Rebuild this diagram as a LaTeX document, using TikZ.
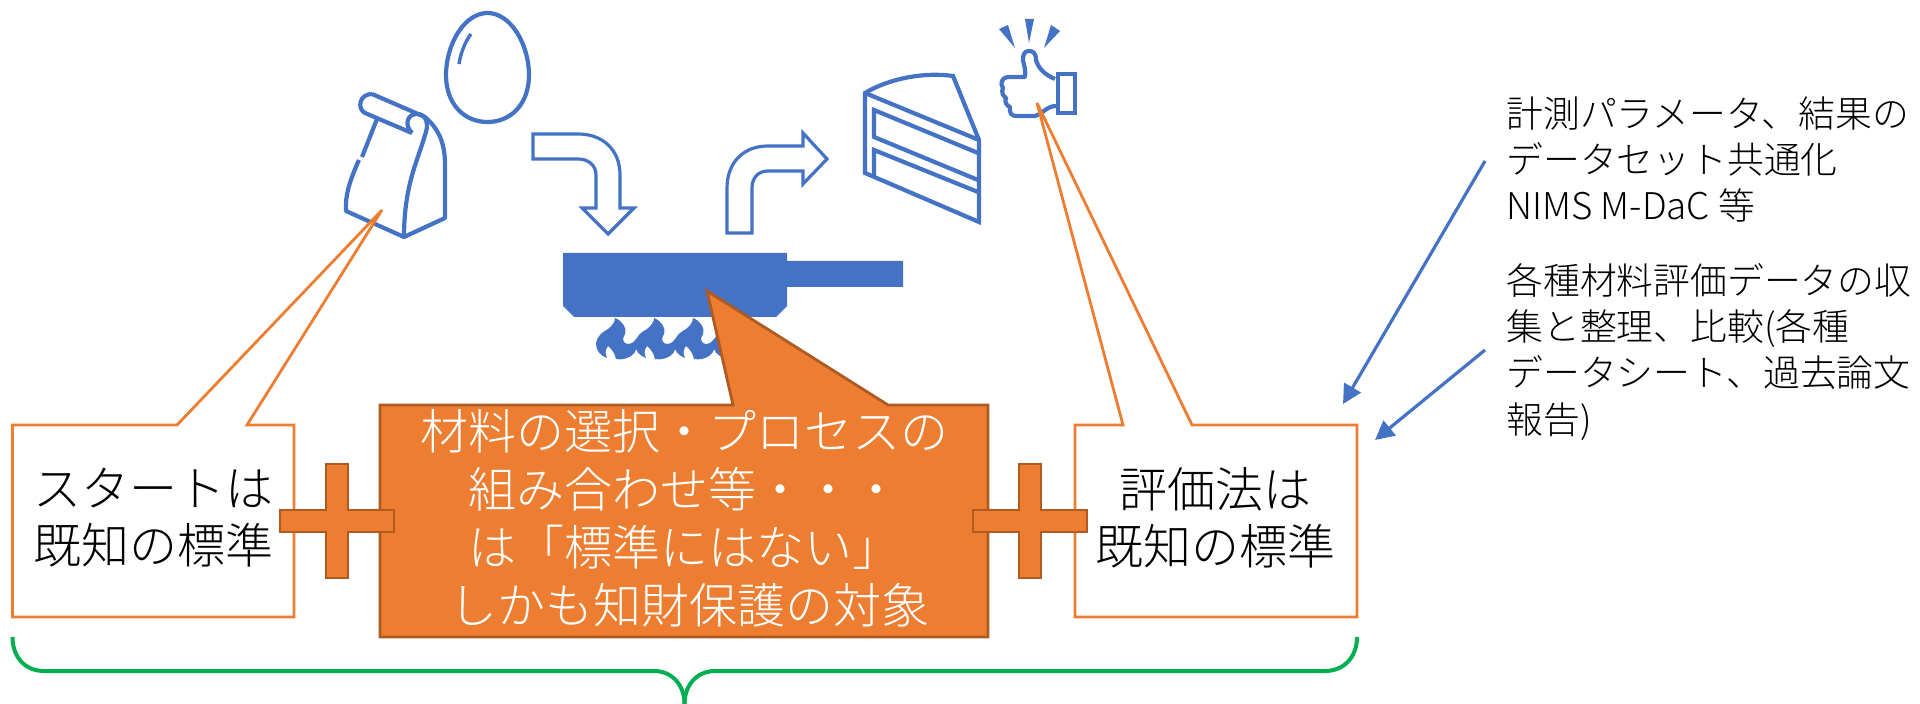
\documentclass[tikz,border=0pt]{standalone}
\usepackage{fontspec}
\IfFontExistsTF{Noto Sans CJK JP Light}{\setmainfont{Noto Sans CJK JP Light}}{\setmainfont{Noto Sans CJK JP}}
\usetikzlibrary{arrows.meta}
\definecolor{bl}{HTML}{4472C4}
\definecolor{og}{HTML}{ED7D31}
\definecolor{dog}{HTML}{AE5A21}
\definecolor{gr}{HTML}{00B050}
\tikzset{
 icon/.style={draw=bl,line width=2.1pt,line join=miter,fill=white},
 iconthin/.style={draw=bl,line width=1.6pt,line join=miter,fill=white},
 calloutw/.style={draw=og,line width=1.4pt,fill=white,line join=miter,miter limit=3},
 callouto/.style={draw=dog,line width=1.4pt,fill=og,line join=miter},
 bigtext/.style={inner sep=0pt,align=center,font=\fontsize{24}{28.5}\selectfont,text=black},
 midtext/.style={inner sep=0pt,align=center,font=\fontsize{24}{29}\selectfont,text=white},
 sidetext/.style={inner sep=0pt,align=left,anchor=north west,font=\fontsize{18.4}{23.1}\selectfont,text=black},
 link/.style={draw=bl,line width=1.6pt,-{Triangle[length=9.5pt,width=9.5pt]}},
 brace/.style={draw=gr,line width=2pt,line cap=butt},
 flame/.pic={\fill[bl] (-1,-15) .. controls (0,-24) and (6,-27) .. (11,-30) .. controls (15,-33) and (18,-37) .. (18,-41)
   .. controls (25,-38) and (30,-32) .. (28,-25) .. controls (26,-21) and (25,-19) .. (28,-16) .. controls (31,-14) and (36,-15) .. (39,-20)
   .. controls (41,-12) and (39,-6) .. (34,-3) .. controls (29,0) and (24,1) .. (19,0)
   .. controls (18,-5) and (15,-10) .. (11,-13) .. controls (8,-9) and (8,-5) .. (10,-1)
   .. controls (4,-3) and (-1,-8) .. (-1,-15) -- cycle;}
}
\begin{document}
\begin{tikzpicture}[x=0.5pt,y=-0.5pt]
\useasboundingbox (0,0) rectangle (1920,704);
% egg
\draw[icon,fill=none] (487.5,13) .. controls (511,13) and (529,45) .. (529,75)
  .. controls (529,104) and (511,122) .. (487.5,122)
  .. controls (464,122) and (446,104) .. (446,75)
  .. controls (446,45) and (464,13) .. cycle;
\draw[icon,fill=none,line width=1.7pt] (471,34) .. controls (465,42) and (461,52) .. (459,64);
% bag
\begin{scope}[icon,fill=none,line join=round]
\draw (372,94) -- (425,117) .. controls (440,130) and (445,145) .. (445,165) -- (445,218) -- (404,237) -- (346,211)
  .. controls (345,195) and (350,180) .. (359,160);
\draw (377,119) -- (362,157);
\draw (412,133) -- (365,113) .. controls (357,109) and (359,94) .. (372,94);
\draw (412,133) .. controls (404,125) and (407,114) .. (417,114) .. controls (427,114) and (429,125) .. (425,135)
  .. controls (418,160) and (404,185) .. (404,237);
\end{scope}
% bent arrows
\draw[iconthin] (533,134) -- (578,134) .. controls (603,134) and (620,150) .. (620,175) -- (620,208) -- (634,208) -- (608,234) -- (582,208) -- (596,208) -- (596,175)
  .. controls (596,165) and (588,159) .. (578,159) -- (533,159) -- cycle;
\draw[iconthin] (727,233) -- (727,188) .. controls (727,163) and (743,146) .. (768,146) -- (803,146) -- (803,133) -- (827,159) -- (803,184) -- (803,171) -- (768,171)
  .. controls (758,171) and (752,178) .. (752,188) -- (752,233) -- cycle;
% cake
\draw[icon,fill=none] (865,93) .. controls (890,78) and (925,72) .. (953,76) -- (979,140) -- (979,222) -- (865,173) -- cycle;
\draw[icon,fill=none] (865,93) -- (979,140);
\draw[icon,fill=none] (978,153) -- (874,110) -- (874,137) -- (978,180);
\draw[icon,fill=none] (978,192) -- (874,150) -- (874,177);
% thumb
\draw[icon,fill=none,line join=round] (1055,79) .. controls (1045,75) and (1038,68) .. (1036,60)
  .. controls (1036,52) and (1032,51) .. (1029,51) .. controls (1024,51) and (1023,55) .. (1023,60) .. controls (1024,66) and (1026,70) .. (1025,77)
  -- (1008,77) .. controls (1001,78) and (1000,84) .. (1003,88) .. controls (1001,92) and (1003,96) .. (1006,98) .. controls (1004,102) and (1007,106) .. (1010,107)
  .. controls (1009,112) and (1011,116) .. (1016,116) -- (1035,116) .. controls (1042,115) and (1046,106) .. (1056,106);
\draw[icon,fill=none] (1058,74) rectangle (1075,113);
\fill[bl] (999,29) -- (1008,25) -- (1015,48) -- cycle;
\fill[bl] (1025,19) -- (1034,19) -- (1029,43) -- cycle;
\fill[bl] (1051,25) -- (1060,31) -- (1044,48) -- cycle;
% pan
\fill[bl] (563,253) -- (787,253) -- (787,261) -- (903,261) -- (903,287) -- (787,287) -- (787,306) -- (776,317) -- (574,317) -- (563,306) -- cycle;
% flames
\foreach \fx in {597,636,675,714}
  \pic at (\fx,359) {flame};
% callouts
\draw[calloutw] (12.5,425) -- (177,425) -- (382,210) -- (247,425) -- (294,425) -- (294,617) -- (12.5,617) -- cycle;
\draw[calloutw] (1075,425) -- (1123,425) -- (1037,103) -- (1192,425) -- (1357,425) -- (1357,617) -- (1075,617) -- cycle;
\draw[callouto] (380,405) -- (733,405) -- (707,291) -- (888,405) -- (988,405) -- (988,637) -- (380,637) -- cycle;
% plus signs
\draw[callouto] (326,464) -- (348,464) -- (348,510) -- (394,510) -- (394,532) -- (348,532) -- (348,578) -- (326,578) -- (326,532) -- (280,532) -- (280,510) -- (326,510) -- cycle;
\draw[callouto] (1019,464) -- (1041,464) -- (1041,510) -- (1087,510) -- (1087,532) -- (1041,532) -- (1041,578) -- (1019,578) -- (1019,532) -- (973,532) -- (973,510) -- (1019,510) -- cycle;
% texts
\node[bigtext] (tstart) at (153,518) {スタートは\\既知の標準};
\node[midtext] (tmid) at (684,518) {材料の選択・プロセスの\\組み合わせ等・・・\\は「標準にはない」\\\hspace*{5pt}しかも知財保護の対象};
\node[bigtext] (teval) at (1215,518) {評価法は\\既知の標準};
\node[sidetext] (tdata) at (1506,96) {計測パラメータ、結果の\\データセット共通化\\NIMS M-DaC 等};
\node[sidetext] (tcoll) at (1506,263) {各種材料評価データの収\\集と整理、比較(各種\\データシート、過去論文\\報告)};
% arrows
\coordinate (a1s) at (1485,161); \coordinate (a1e) at (1343,404);
\coordinate (a2s) at (1485,350); \coordinate (a2e) at (1375,440);
\draw[link] (a1s) -- (a1e);
\draw[link] (a2s) -- (a2e);
% brace
\draw[brace] (12.5,637) .. controls (12.5,657) and (25,671) .. (44,671) -- (654,671)
  .. controls (672,671) and (684.5,685) .. (684.5,704);
\draw[brace] (1357,637) .. controls (1357,657) and (1344,671) .. (1325,671) -- (715,671)
  .. controls (697,671) and (684.5,685) .. (684.5,704);
\end{tikzpicture}
\end{document}
